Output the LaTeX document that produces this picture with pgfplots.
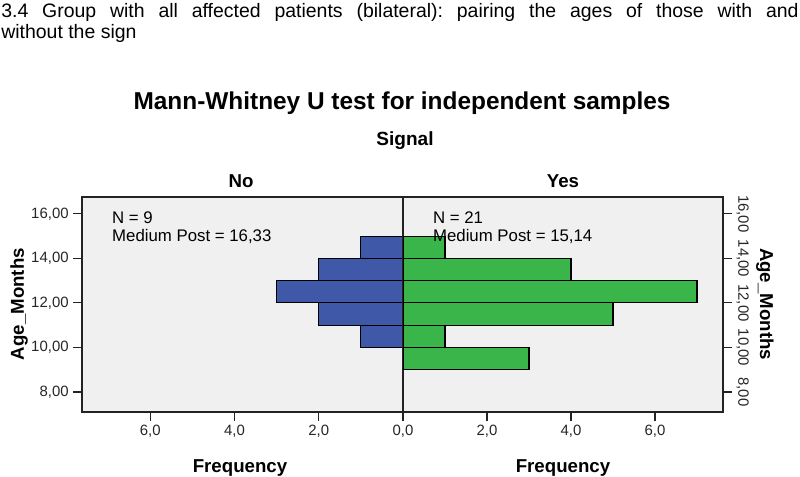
\documentclass[border=0pt]{standalone}
\usepackage{fontspec}
\setmainfont{Liberation Sans}
\usepackage{pgfplots}
\pgfplotsset{compat=1.18}
\frenchspacing

\definecolor{spssbg}{RGB}{240,240,240}
\definecolor{barblue}{RGB}{63,88,168}
\definecolor{bargreen}{RGB}{57,181,74}
\definecolor{framec}{RGB}{35,35,35}

\pgfplotsset{
  halfpanel/.style={
    scale only axis,
    height=161.25pt,
    xbar, bar width=1,
    xmin=0, xmax=7.62,
    ymin=7.1, ymax=16.76,
    axis background/.style={fill=spssbg},
    axis line style={framec, line width=1pt},
    tick style={framec, line width=0.8pt},
    tick align=outside,
    major tick length=6.5pt,
    xtick={0,2,4,6},
    xticklabels={{0,0},{2,0},{4,0},{6,0}},
    ytick={8,10,12,14,16},
    yticklabels={{8,00},{10,00},{12,00},{14,00},{16,00}},
    xtick pos=lower,
    tick label style={font=\fontsize{11.2}{12}\selectfont, text=black!85},
    every axis plot/.append style={draw=black, line width=0.8pt},
  },
}
\tikzset{
  annot/.style={anchor=north west, align=left, inner sep=0pt,
    font=\fontsize{12.6}{13.5}\selectfont},
}

\begin{document}
\begin{tikzpicture}
\path[use as bounding box] (0,0) rectangle (600pt,357pt);

% heading paragraph above the chart
\node[anchor=north west, inner sep=0pt, align=left,
      font=\fontsize{14.6}{15.8}\selectfont] at (0.75pt,354.75pt)
  {\makebox[598pt][s]{3.4 Group with all affected patients (bilateral): pairing the ages of those with and}\\
   without the sign};

\node[anchor=base, font=\bfseries\fontsize{18.3}{20}\selectfont] at (301.5pt,275.25pt)
  {Mann-Whitney U test for independent samples};
\node[anchor=base, font=\bfseries\fontsize{14.3}{16}\selectfont] at (303.75pt,247.5pt) {Signal};
\node[anchor=base, font=\bfseries\fontsize{14}{16}\selectfont] at (180.75pt,216.75pt) {No};
\node[anchor=base, font=\bfseries\fontsize{14}{16}\selectfont] at (422.25pt,216.75pt) {Yes};
\node[anchor=base, font=\bfseries\fontsize{14}{16}\selectfont] at (180pt,3pt) {Frequency};
\node[anchor=base, font=\bfseries\fontsize{14}{16}\selectfont] at (422.25pt,3pt) {Frequency};
\node[rotate=90, font=\bfseries\fontsize{14}{16}\selectfont] at (14.25pt,129pt) {Age\_Months};
\node[rotate=-90, font=\bfseries\fontsize{14}{16}\selectfont] at (573.75pt,129pt) {Age\_Months};

% Signal = No
\begin{axis}[halfpanel,
  at={(61.5pt,48pt)}, anchor=south west, width=240.75pt,
  x dir=reverse, ytick pos=lower]
\addplot[fill=barblue] coordinates {(1,10.5) (2,11.5) (3,12.5) (2,13.5) (1,14.5)};
\node[annot] at (axis cs:6.91,16.13) {N = 9\\Medium Post = 16,33};
\end{axis}

% Signal = Yes
\begin{axis}[halfpanel,
  at={(302.25pt,48pt)}, anchor=south west, width=240pt,
  ytick pos=upper, yticklabel pos=upper,
  xtick={2,4,6}, xticklabels={{2,0},{4,0},{6,0}},
  yticklabel style={rotate=-90, anchor=south}]
\addplot[fill=bargreen] coordinates {(3,9.5) (1,10.5) (5,11.5) (7,12.5) (4,13.5) (1,14.5)};
\node[annot] at (axis cs:0.71,16.13) {N = 21\\Medium Post = 15,14};
\end{axis}
\end{tikzpicture}
\end{document}
